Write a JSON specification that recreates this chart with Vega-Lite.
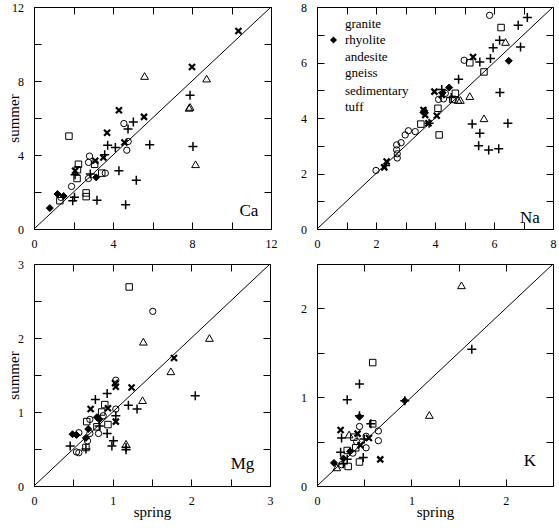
{
  "$schema": "https://vega.github.io/schema/vega-lite/v6.json",
  "padding": {"left": 6, "top": 0, "right": 0, "bottom": 0},
  "datasets": {
    "Ca": [
      {"rock": "granite", "spring": 7.9, "summer": 7.23}, {"rock": "granite", "spring": 5.03, "summer": 5.79}, {"rock": "granite", "spring": 4.76, "summer": 5.4}, {"rock": "granite", "spring": 3.73, "summer": 4.53}, {"rock": "granite", "spring": 4.12, "summer": 4.4}, {"rock": "granite", "spring": 5.86, "summer": 4.55}, {"rock": "granite", "spring": 8.05, "summer": 4.46}, {"rock": "granite", "spring": 3.58, "summer": 4.01}, {"rock": "granite", "spring": 2.08, "summer": 2.93}, {"rock": "granite", "spring": 2.85, "summer": 2.97}, {"rock": "granite", "spring": 4.3, "summer": 3.15}, {"rock": "granite", "spring": 5.18, "summer": 2.63}, {"rock": "granite", "spring": 2.05, "summer": 1.71}, {"rock": "granite", "spring": 1.96, "summer": 1.53}, {"rock": "granite", "spring": 3.19, "summer": 1.56}, {"rock": "granite", "spring": 4.64, "summer": 1.31},
      {"rock": "rhyolite", "spring": 3.15, "summer": 2.79}, {"rock": "rhyolite", "spring": 1.19, "summer": 1.89}, {"rock": "rhyolite", "spring": 1.5, "summer": 1.78}, {"rock": "rhyolite", "spring": 0.8, "summer": 1.13},
      {"rock": "andesite", "spring": 5.6, "summer": 8.27}, {"rock": "andesite", "spring": 8.74, "summer": 8.13}, {"rock": "andesite", "spring": 7.9, "summer": 6.6}, {"rock": "andesite", "spring": 7.85, "summer": 6.55}, {"rock": "andesite", "spring": 8.18, "summer": 3.5},
      {"rock": "gneiss", "spring": 4.55, "summer": 5.7}, {"rock": "gneiss", "spring": 4.77, "summer": 4.73}, {"rock": "gneiss", "spring": 4.7, "summer": 4.26}, {"rock": "gneiss", "spring": 2.81, "summer": 3.94}, {"rock": "gneiss", "spring": 2.76, "summer": 3.6}, {"rock": "gneiss", "spring": 2.76, "summer": 2.73}, {"rock": "gneiss", "spring": 3.61, "summer": 3.02}, {"rock": "gneiss", "spring": 1.9, "summer": 2.3}, {"rock": "gneiss", "spring": 1.36, "summer": 1.71},
      {"rock": "sedimentary", "spring": 10.35, "summer": 10.7}, {"rock": "sedimentary", "spring": 8.0, "summer": 8.76}, {"rock": "sedimentary", "spring": 4.3, "summer": 6.42}, {"rock": "sedimentary", "spring": 5.57, "summer": 6.06}, {"rock": "sedimentary", "spring": 3.7, "summer": 5.2}, {"rock": "sedimentary", "spring": 4.58, "summer": 4.68}, {"rock": "sedimentary", "spring": 3.1, "summer": 3.69}, {"rock": "sedimentary", "spring": 3.51, "summer": 3.87}, {"rock": "sedimentary", "spring": 2.08, "summer": 3.15},
      {"rock": "tuff", "spring": 1.77, "summer": 5.02}, {"rock": "tuff", "spring": 3.07, "summer": 3.5}, {"rock": "tuff", "spring": 2.25, "summer": 3.5}, {"rock": "tuff", "spring": 2.2, "summer": 3.2}, {"rock": "tuff", "spring": 2.18, "summer": 2.73}, {"rock": "tuff", "spring": 3.43, "summer": 3.02}, {"rock": "tuff", "spring": 1.31, "summer": 1.53}, {"rock": "tuff", "spring": 2.64, "summer": 1.95}, {"rock": "tuff", "spring": 2.64, "summer": 1.75}
    ],
    "Na": [
      {"rock": "granite", "spring": 7.13, "summer": 7.62}, {"rock": "granite", "spring": 6.82, "summer": 7.34}, {"rock": "granite", "spring": 6.19, "summer": 6.8}, {"rock": "granite", "spring": 5.97, "summer": 6.53}, {"rock": "granite", "spring": 6.9, "summer": 6.56}, {"rock": "granite", "spring": 5.88, "summer": 6.14}, {"rock": "granite", "spring": 5.52, "summer": 6.02}, {"rock": "granite", "spring": 4.8, "summer": 5.4}, {"rock": "granite", "spring": 6.2, "summer": 4.92}, {"rock": "granite", "spring": 4.23, "summer": 5.03}, {"rock": "granite", "spring": 4.55, "summer": 4.74}, {"rock": "granite", "spring": 3.8, "summer": 3.81}, {"rock": "granite", "spring": 5.26, "summer": 3.78}, {"rock": "granite", "spring": 6.47, "summer": 3.81}, {"rock": "granite", "spring": 5.52, "summer": 3.45}, {"rock": "granite", "spring": 5.48, "summer": 3.0}, {"rock": "granite", "spring": 5.82, "summer": 2.85}, {"rock": "granite", "spring": 6.16, "summer": 2.89}, {"rock": "granite", "spring": 2.33, "summer": 2.29},
      {"rock": "rhyolite", "spring": 6.5, "summer": 6.06}, {"rock": "rhyolite", "spring": 4.48, "summer": 5.1}, {"rock": "rhyolite", "spring": 4.26, "summer": 4.91}, {"rock": "rhyolite", "spring": 3.64, "summer": 4.26}, {"rock": "rhyolite", "spring": 3.61, "summer": 4.2},
      {"rock": "andesite", "spring": 6.39, "summer": 6.74}, {"rock": "andesite", "spring": 4.78, "summer": 4.65}, {"rock": "andesite", "spring": 4.86, "summer": 4.65}, {"rock": "andesite", "spring": 5.18, "summer": 4.79}, {"rock": "andesite", "spring": 5.66, "summer": 3.99},
      {"rock": "gneiss", "spring": 5.85, "summer": 7.7}, {"rock": "gneiss", "spring": 4.99, "summer": 6.08}, {"rock": "gneiss", "spring": 4.35, "summer": 4.89}, {"rock": "gneiss", "spring": 4.12, "summer": 4.67}, {"rock": "gneiss", "spring": 4.29, "summer": 4.69}, {"rock": "gneiss", "spring": 3.33, "summer": 3.51}, {"rock": "gneiss", "spring": 3.1, "summer": 3.54}, {"rock": "gneiss", "spring": 2.99, "summer": 3.39}, {"rock": "gneiss", "spring": 2.85, "summer": 3.11}, {"rock": "gneiss", "spring": 2.7, "summer": 3.03}, {"rock": "gneiss", "spring": 2.7, "summer": 2.85}, {"rock": "gneiss", "spring": 2.72, "summer": 2.71}, {"rock": "gneiss", "spring": 2.72, "summer": 2.56}, {"rock": "gneiss", "spring": 2.0, "summer": 2.11},
      {"rock": "sedimentary", "spring": 5.29, "summer": 6.2}, {"rock": "sedimentary", "spring": 3.98, "summer": 4.95}, {"rock": "sedimentary", "spring": 4.23, "summer": 4.83}, {"rock": "sedimentary", "spring": 3.61, "summer": 4.29}, {"rock": "sedimentary", "spring": 3.67, "summer": 4.11}, {"rock": "sedimentary", "spring": 4.06, "summer": 4.08}, {"rock": "sedimentary", "spring": 3.78, "summer": 3.81}, {"rock": "sedimentary", "spring": 2.36, "summer": 2.43}, {"rock": "sedimentary", "spring": 2.28, "summer": 2.22},
      {"rock": "tuff", "spring": 6.24, "summer": 7.26}, {"rock": "tuff", "spring": 5.18, "summer": 5.99}, {"rock": "tuff", "spring": 5.66, "summer": 5.66}, {"rock": "tuff", "spring": 4.69, "summer": 4.89}, {"rock": "tuff", "spring": 4.6, "summer": 4.67}, {"rock": "tuff", "spring": 4.1, "summer": 4.35}, {"rock": "tuff", "spring": 3.52, "summer": 3.78}, {"rock": "tuff", "spring": 4.14, "summer": 3.39}
    ],
    "Mg": [
      {"rock": "granite", "spring": 2.05, "summer": 1.22}, {"rock": "granite", "spring": 0.93, "summer": 1.25}, {"rock": "granite", "spring": 0.78, "summer": 1.17}, {"rock": "granite", "spring": 1.2, "summer": 1.09}, {"rock": "granite", "spring": 1.31, "summer": 1.04}, {"rock": "granite", "spring": 1.04, "summer": 0.95}, {"rock": "granite", "spring": 0.83, "summer": 0.81}, {"rock": "granite", "spring": 0.93, "summer": 0.71}, {"rock": "granite", "spring": 0.46, "summer": 0.54}, {"rock": "granite", "spring": 0.66, "summer": 0.5}, {"rock": "granite", "spring": 1.01, "summer": 0.61}, {"rock": "granite", "spring": 0.99, "summer": 0.54}, {"rock": "granite", "spring": 1.17, "summer": 0.52}, {"rock": "granite", "spring": 1.17, "summer": 0.49},
      {"rock": "rhyolite", "spring": 0.8, "summer": 0.93}, {"rock": "rhyolite", "spring": 0.83, "summer": 0.9}, {"rock": "rhyolite", "spring": 0.69, "summer": 0.77}, {"rock": "rhyolite", "spring": 0.66, "summer": 0.65}, {"rock": "rhyolite", "spring": 0.49, "summer": 0.7}, {"rock": "rhyolite", "spring": 0.54, "summer": 0.69},
      {"rock": "andesite", "spring": 1.39, "summer": 1.95}, {"rock": "andesite", "spring": 2.23, "summer": 2.0}, {"rock": "andesite", "spring": 1.74, "summer": 1.55}, {"rock": "andesite", "spring": 1.38, "summer": 1.16}, {"rock": "andesite", "spring": 1.17, "summer": 0.57},
      {"rock": "gneiss", "spring": 1.51, "summer": 2.36}, {"rock": "gneiss", "spring": 1.04, "summer": 1.43}, {"rock": "gneiss", "spring": 1.04, "summer": 1.04}, {"rock": "gneiss", "spring": 0.88, "summer": 0.95}, {"rock": "gneiss", "spring": 0.71, "summer": 0.9}, {"rock": "gneiss", "spring": 0.82, "summer": 0.71}, {"rock": "gneiss", "spring": 0.71, "summer": 0.71}, {"rock": "gneiss", "spring": 0.68, "summer": 0.61}, {"rock": "gneiss", "spring": 0.57, "summer": 0.72}, {"rock": "gneiss", "spring": 0.54, "summer": 0.46}, {"rock": "gneiss", "spring": 0.57, "summer": 0.45},
      {"rock": "sedimentary", "spring": 1.78, "summer": 1.73}, {"rock": "sedimentary", "spring": 1.24, "summer": 1.33}, {"rock": "sedimentary", "spring": 1.03, "summer": 1.39}, {"rock": "sedimentary", "spring": 1.04, "summer": 1.34}, {"rock": "sedimentary", "spring": 0.72, "summer": 1.04}, {"rock": "sedimentary", "spring": 0.94, "summer": 1.05}, {"rock": "sedimentary", "spring": 1.04, "summer": 0.87},
      {"rock": "tuff", "spring": 1.21, "summer": 2.69}, {"rock": "tuff", "spring": 0.9, "summer": 1.1}, {"rock": "tuff", "spring": 0.86, "summer": 1.0}, {"rock": "tuff", "spring": 0.67, "summer": 0.87}, {"rock": "tuff", "spring": 0.94, "summer": 0.83}, {"rock": "tuff", "spring": 0.8, "summer": 0.8}, {"rock": "tuff", "spring": 0.66, "summer": 0.52}
    ],
    "K": [
      {"rock": "granite", "spring": 1.64, "summer": 1.54}, {"rock": "granite", "spring": 0.45, "summer": 1.15}, {"rock": "granite", "spring": 0.32, "summer": 0.97}, {"rock": "granite", "spring": 0.93, "summer": 0.96}, {"rock": "granite", "spring": 0.45, "summer": 0.79}, {"rock": "granite", "spring": 0.26, "summer": 0.54}, {"rock": "granite", "spring": 0.57, "summer": 0.7}, {"rock": "granite", "spring": 0.5, "summer": 0.53}, {"rock": "granite", "spring": 0.25, "summer": 0.38}, {"rock": "granite", "spring": 0.49, "summer": 0.32}, {"rock": "granite", "spring": 0.32, "summer": 0.3}, {"rock": "granite", "spring": 0.28, "summer": 0.25},
      {"rock": "rhyolite", "spring": 0.93, "summer": 0.96}, {"rock": "rhyolite", "spring": 0.45, "summer": 0.78}, {"rock": "rhyolite", "spring": 0.35, "summer": 0.39}, {"rock": "rhyolite", "spring": 0.28, "summer": 0.31}, {"rock": "rhyolite", "spring": 0.18, "summer": 0.26},
      {"rock": "andesite", "spring": 1.53, "summer": 2.26}, {"rock": "andesite", "spring": 1.19, "summer": 0.8}, {"rock": "andesite", "spring": 0.34, "summer": 0.58}, {"rock": "andesite", "spring": 0.21, "summer": 0.21},
      {"rock": "gneiss", "spring": 0.45, "summer": 0.67}, {"rock": "gneiss", "spring": 0.65, "summer": 0.62}, {"rock": "gneiss", "spring": 0.65, "summer": 0.51}, {"rock": "gneiss", "spring": 0.52, "summer": 0.56}, {"rock": "gneiss", "spring": 0.42, "summer": 0.5}, {"rock": "gneiss", "spring": 0.52, "summer": 0.43}, {"rock": "gneiss", "spring": 0.38, "summer": 0.37}, {"rock": "gneiss", "spring": 0.26, "summer": 0.24},
      {"rock": "sedimentary", "spring": 0.25, "summer": 0.63}, {"rock": "sedimentary", "spring": 0.43, "summer": 0.59}, {"rock": "sedimentary", "spring": 0.55, "summer": 0.54}, {"rock": "sedimentary", "spring": 0.46, "summer": 0.46}, {"rock": "sedimentary", "spring": 0.67, "summer": 0.3},
      {"rock": "tuff", "spring": 0.59, "summer": 1.39}, {"rock": "tuff", "spring": 0.59, "summer": 0.7}, {"rock": "tuff", "spring": 0.39, "summer": 0.55}, {"rock": "tuff", "spring": 0.41, "summer": 0.43}, {"rock": "tuff", "spring": 0.32, "summer": 0.4}, {"rock": "tuff", "spring": 0.45, "summer": 0.27}, {"rock": "tuff", "spring": 0.33, "summer": 0.22}
    ]
  },
  "columns": 2,
  "spacing": {"row": 35, "column": 46},
  "bounds": "flush",
  "resolve": {"scale": {"shape": "independent", "fill": "independent", "strokeWidth": "independent", "size": "independent"}},
  "concat": [
    {
      "width": 237, "height": 222,
      "layer": [
        {
          "data": {"values": [{"v": 0}, {"v": 12}]},
          "mark": {"type": "line", "color": "black", "strokeWidth": 1},
          "encoding": {
            "x": {"field": "v", "type": "quantitative", "scale": {"domain": [0, 12], "nice": false, "zero": false}, "axis": {"orient": "top", "values": [0, 2, 4, 6, 8, 10, 12], "labels": false, "title": null}},
            "y": {"field": "v", "type": "quantitative", "scale": {"domain": [0, 12], "nice": false, "zero": false}, "axis": {"orient": "right", "values": [0, 2, 4, 6, 8, 10, 12], "labels": false, "title": null}}
          }
        },
        {
          "data": {"name": "Ca"},
          "mark": {"type": "point", "filled": false, "stroke": "black", "opacity": 1},
          "encoding": {
            "x": {"field": "spring", "type": "quantitative", "axis": {"orient": "bottom", "values": [0, 2, 4, 6, 8, 10, 12], "labelExpr": "datum.value % 4 ? '' : format(datum.value, 'd')", "title": null}},
            "y": {"field": "summer", "type": "quantitative", "axis": {"orient": "left", "values": [0, 2, 4, 6, 8, 10, 12], "labelExpr": "datum.value % 4 ? '' : format(datum.value, 'd')", "title": "summer", "titlePadding": -10}},
            "shape": {"field": "rock", "type": "nominal", "scale": {"domain": ["granite", "rhyolite", "andesite", "gneiss", "sedimentary", "tuff"], "range": ["M-1,0L1,0M0,-1L0,1", "diamond", "triangle-up", "circle", "M-1,-1L1,1M-1,1L1,-1", "square"]}, "legend": null},
            "fill": {"field": "rock", "type": "nominal", "scale": {"domain": ["granite", "rhyolite", "andesite", "gneiss", "sedimentary", "tuff"], "range": ["transparent", "black", "transparent", "transparent", "transparent", "transparent"]}, "legend": null},
            "size": {"field": "rock", "type": "nominal", "scale": {"type": "ordinal", "domain": ["granite", "rhyolite", "andesite", "gneiss", "sedimentary", "tuff"], "range": [81, 49, 60, 40, 36, 42]}, "legend": null},
            "strokeWidth": {"field": "rock", "type": "nominal", "scale": {"type": "ordinal", "domain": ["granite", "rhyolite", "andesite", "gneiss", "sedimentary", "tuff"], "range": [1.5, 1, 1, 1, 2.2, 1]}, "legend": null}
          }
        },
        {
          "data": {"values": [{}]},
          "mark": {"type": "text", "text": "Ca", "align": "right", "baseline": "alphabetic", "fontSize": 17, "color": "black"},
          "encoding": {"x": {"datum": 11.36, "type": "quantitative", "axis": null}, "y": {"datum": 0.7, "type": "quantitative", "axis": null}}
        }
      ],
      "resolve": {"axis": {"x": "independent", "y": "independent"}}
    },
    {
      "width": 236, "height": 222,
      "layer": [
        {
          "data": {"values": [{"v": 0}, {"v": 8}]},
          "mark": {"type": "line", "color": "black", "strokeWidth": 1},
          "encoding": {
            "x": {"field": "v", "type": "quantitative", "scale": {"domain": [0, 8], "nice": false, "zero": false}, "axis": {"orient": "top", "values": [0, 1, 2, 3, 4, 5, 6, 7, 8], "labels": false, "title": null}},
            "y": {"field": "v", "type": "quantitative", "scale": {"domain": [0, 8], "nice": false, "zero": false}, "axis": {"orient": "right", "values": [0, 1, 2, 3, 4, 5, 6, 7, 8], "labels": false, "title": null}}
          }
        },
        {
          "data": {"name": "Na"},
          "mark": {"type": "point", "filled": false, "stroke": "black", "opacity": 1},
          "encoding": {
            "x": {"field": "spring", "type": "quantitative", "axis": {"orient": "bottom", "values": [0, 1, 2, 3, 4, 5, 6, 7, 8], "labelExpr": "datum.value % 2 ? '' : format(datum.value, 'd')", "title": null}},
            "y": {"field": "summer", "type": "quantitative", "axis": {"orient": "left", "values": [0, 1, 2, 3, 4, 5, 6, 7, 8], "labelExpr": "datum.value % 2 ? '' : format(datum.value, 'd')", "title": null}},
            "shape": {"field": "rock", "type": "nominal", "scale": {"domain": ["granite", "rhyolite", "andesite", "gneiss", "sedimentary", "tuff"], "range": ["M-1,0L1,0M0,-1L0,1", "diamond", "triangle-up", "circle", "M-1,-1L1,1M-1,1L1,-1", "square"]}, "legend": {"orient": "top-left", "offset": 10, "title": null, "encode": {"symbols": {"update": {"stroke": {"value": "black"}, "strokeOpacity": {"value": 1}, "opacity": {"value": 1}}}}}},
            "fill": {"field": "rock", "type": "nominal", "scale": {"domain": ["granite", "rhyolite", "andesite", "gneiss", "sedimentary", "tuff"], "range": ["transparent", "black", "transparent", "transparent", "transparent", "transparent"]}, "legend": {"orient": "top-left", "offset": 10, "title": null, "encode": {"symbols": {"update": {"stroke": {"value": "black"}, "strokeOpacity": {"value": 1}, "opacity": {"value": 1}}}}}},
            "size": {"field": "rock", "type": "nominal", "scale": {"type": "ordinal", "domain": ["granite", "rhyolite", "andesite", "gneiss", "sedimentary", "tuff"], "range": [81, 49, 60, 40, 36, 42]}, "legend": {"orient": "top-left", "offset": 10, "title": null, "encode": {"symbols": {"update": {"stroke": {"value": "black"}, "strokeOpacity": {"value": 1}, "opacity": {"value": 1}}}}}},
            "strokeWidth": {"field": "rock", "type": "nominal", "scale": {"type": "ordinal", "domain": ["granite", "rhyolite", "andesite", "gneiss", "sedimentary", "tuff"], "range": [1.5, 1, 1, 1, 2.2, 1]}, "legend": {"orient": "top-left", "offset": 10, "title": null, "encode": {"symbols": {"update": {"stroke": {"value": "black"}, "strokeOpacity": {"value": 1}, "opacity": {"value": 1}}}}}}
          }
        },
        {
          "data": {"values": [{}]},
          "mark": {"type": "text", "text": "Na", "align": "right", "baseline": "alphabetic", "fontSize": 17, "color": "black"},
          "encoding": {"x": {"datum": 7.55, "type": "quantitative", "axis": null}, "y": {"datum": 0.2, "type": "quantitative", "axis": null}}
        }
      ],
      "resolve": {"axis": {"x": "independent", "y": "independent"}}
    },
    {
      "width": 236, "height": 222,
      "layer": [
        {
          "data": {"values": [{"v": 0}, {"v": 3}]},
          "mark": {"type": "line", "color": "black", "strokeWidth": 1},
          "encoding": {
            "x": {"field": "v", "type": "quantitative", "scale": {"domain": [0, 3], "nice": false, "zero": false}, "axis": {"orient": "top", "values": [0, 0.5, 1, 1.5, 2, 2.5, 3], "labels": false, "title": null}},
            "y": {"field": "v", "type": "quantitative", "scale": {"domain": [0, 3], "nice": false, "zero": false}, "axis": {"orient": "right", "values": [0, 0.5, 1, 1.5, 2, 2.5, 3], "labels": false, "title": null}}
          }
        },
        {
          "data": {"name": "Mg"},
          "mark": {"type": "point", "filled": false, "stroke": "black", "opacity": 1},
          "encoding": {
            "x": {"field": "spring", "type": "quantitative", "axis": {"orient": "bottom", "values": [0, 0.5, 1, 1.5, 2, 2.5, 3], "labelExpr": "datum.value % 1 ? '' : format(datum.value, 'd')", "title": "spring", "titlePadding": -2}},
            "y": {"field": "summer", "type": "quantitative", "axis": {"orient": "left", "values": [0, 0.5, 1, 1.5, 2, 2.5, 3], "labelExpr": "datum.value % 1 ? '' : format(datum.value, 'd')", "title": "summer", "titlePadding": -4}},
            "shape": {"field": "rock", "type": "nominal", "scale": {"domain": ["granite", "rhyolite", "andesite", "gneiss", "sedimentary", "tuff"], "range": ["M-1,0L1,0M0,-1L0,1", "diamond", "triangle-up", "circle", "M-1,-1L1,1M-1,1L1,-1", "square"]}, "legend": null},
            "fill": {"field": "rock", "type": "nominal", "scale": {"domain": ["granite", "rhyolite", "andesite", "gneiss", "sedimentary", "tuff"], "range": ["transparent", "black", "transparent", "transparent", "transparent", "transparent"]}, "legend": null},
            "size": {"field": "rock", "type": "nominal", "scale": {"type": "ordinal", "domain": ["granite", "rhyolite", "andesite", "gneiss", "sedimentary", "tuff"], "range": [81, 49, 60, 40, 36, 42]}, "legend": null},
            "strokeWidth": {"field": "rock", "type": "nominal", "scale": {"type": "ordinal", "domain": ["granite", "rhyolite", "andesite", "gneiss", "sedimentary", "tuff"], "range": [1.5, 1, 1, 1, 2.2, 1]}, "legend": null}
          }
        },
        {
          "data": {"values": [{}]},
          "mark": {"type": "text", "text": "Mg", "align": "right", "baseline": "alphabetic", "fontSize": 17, "color": "black"},
          "encoding": {"x": {"datum": 2.8, "type": "quantitative", "axis": null}, "y": {"datum": 0.23, "type": "quantitative", "axis": null}}
        }
      ],
      "resolve": {"axis": {"x": "independent", "y": "independent"}}
    },
    {
      "width": 236, "height": 222,
      "layer": [
        {
          "data": {"values": [{"v": 0}, {"v": 2.5}]},
          "mark": {"type": "line", "color": "black", "strokeWidth": 1},
          "encoding": {
            "x": {"field": "v", "type": "quantitative", "scale": {"domain": [0, 2.5], "nice": false, "zero": false}, "axis": {"orient": "top", "values": [0, 0.5, 1, 1.5, 2, 2.5], "labels": false, "title": null}},
            "y": {"field": "v", "type": "quantitative", "scale": {"domain": [0, 2.5], "nice": false, "zero": false}, "axis": {"orient": "right", "values": [0, 0.5, 1, 1.5, 2, 2.5], "labels": false, "title": null}}
          }
        },
        {
          "data": {"name": "K"},
          "mark": {"type": "point", "filled": false, "stroke": "black", "opacity": 1},
          "encoding": {
            "x": {"field": "spring", "type": "quantitative", "axis": {"orient": "bottom", "values": [0, 0.5, 1, 1.5, 2, 2.5], "labelExpr": "datum.value % 1 ? '' : format(datum.value, 'd')", "title": "spring", "titlePadding": -2}},
            "y": {"field": "summer", "type": "quantitative", "axis": {"orient": "left", "values": [0, 0.5, 1, 1.5, 2, 2.5], "labelExpr": "datum.value % 1 ? '' : format(datum.value, 'd')", "title": null}},
            "shape": {"field": "rock", "type": "nominal", "scale": {"domain": ["granite", "rhyolite", "andesite", "gneiss", "sedimentary", "tuff"], "range": ["M-1,0L1,0M0,-1L0,1", "diamond", "triangle-up", "circle", "M-1,-1L1,1M-1,1L1,-1", "square"]}, "legend": null},
            "fill": {"field": "rock", "type": "nominal", "scale": {"domain": ["granite", "rhyolite", "andesite", "gneiss", "sedimentary", "tuff"], "range": ["transparent", "black", "transparent", "transparent", "transparent", "transparent"]}, "legend": null},
            "size": {"field": "rock", "type": "nominal", "scale": {"type": "ordinal", "domain": ["granite", "rhyolite", "andesite", "gneiss", "sedimentary", "tuff"], "range": [81, 49, 60, 40, 36, 42]}, "legend": null},
            "strokeWidth": {"field": "rock", "type": "nominal", "scale": {"type": "ordinal", "domain": ["granite", "rhyolite", "andesite", "gneiss", "sedimentary", "tuff"], "range": [1.5, 1, 1, 1, 2.2, 1]}, "legend": null}
          }
        },
        {
          "data": {"values": [{}]},
          "mark": {"type": "text", "text": "K", "align": "right", "baseline": "alphabetic", "fontSize": 17, "color": "black"},
          "encoding": {"x": {"datum": 2.32, "type": "quantitative", "axis": null}, "y": {"datum": 0.23, "type": "quantitative", "axis": null}}
        }
      ],
      "resolve": {"axis": {"x": "independent", "y": "independent"}}
    }
  ],
  "config": {
    "font": "Liberation Serif",
    "background": "white",
    "view": {"stroke": "black", "strokeWidth": 1},
    "style": {
      "guide-label": {"font": "Liberation Serif", "fontSize": 12, "fill": "black"},
      "guide-title": {"font": "Liberation Serif", "fontSize": 15, "fontWeight": "normal", "fill": "black"}
    },
    "axis": {
      "grid": false, "domain": false,
      "ticks": true, "tickColor": "black", "tickSize": -7, "tickWidth": 1,
      "labelFont": "Liberation Serif", "labelFontSize": 12, "labelColor": "black", "labelPadding": 16,
      "labelFlush": false, "labelOverlap": false, "labelBound": false,
      "titleFont": "Liberation Serif", "titleFontSize": 15, "titleFontWeight": "normal", "titleColor": "black"
    },
    "axisY": {"labelPadding": 17.5},
    "legend": {
      "labelFont": "Liberation Serif", "labelFontSize": 13, "labelColor": "black",
      "symbolStrokeColor": "black", "symbolStrokeWidth": 1, "rowPadding": 2.5, "labelOffset": 5, "padding": 0
    }
  }
}
